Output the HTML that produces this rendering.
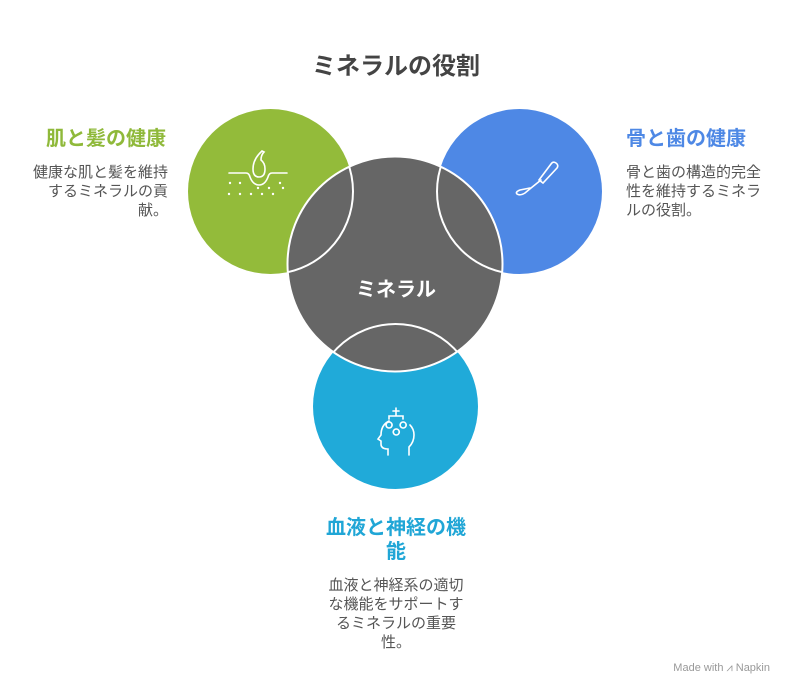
<!DOCTYPE html>
<html><head><meta charset="utf-8"><style>
body{margin:0;width:792px;height:696px;background:#fff;position:relative;overflow:hidden;font-family:"Liberation Sans","Noto Sans CJK JP",sans-serif}
.t{position:absolute;white-space:nowrap}
.h{font-weight:bold;font-size:20px;line-height:24px}
.d{font-size:15px;color:#555;line-height:19px}
</style></head><body>
<svg width="792" height="696" style="position:absolute;left:0;top:0">
<defs><clipPath id="g"><circle cx="395" cy="264" r="107.5"/></clipPath></defs>
<circle cx="270.5" cy="191.5" r="82.5" fill="#93bb3a"/>
<circle cx="519.5" cy="191.5" r="82.5" fill="#4e88e5"/>
<circle cx="395.5" cy="406.5" r="82.5" fill="#20aad9"/>
<circle cx="395" cy="264" r="107.5" fill="#666" stroke="#fff" stroke-width="2"/>
<g clip-path="url(#g)" fill="none" stroke="#fff" stroke-width="2">
<circle cx="270.5" cy="191.5" r="82.5"/><circle cx="519.5" cy="191.5" r="82.5"/><circle cx="395.5" cy="406.5" r="82.5"/></g>
<text x="396" y="296" text-anchor="middle" font-size="20" font-weight="bold" fill="#fff" font-family="Liberation Sans,Noto Sans CJK JP,sans-serif">ミネラル</text>
<g fill="none" stroke="#fff" stroke-width="1.6" stroke-linecap="round">
<path d="M229 173h17q3 0 4 4q3 8 9 8q6 0 9-8q1-4 4-4h15"/>
<path d="M262 151q-9 8-9 18q0 8 6 8q6 0 6-8q0-6-4-9q0-5 3-8z"/>
<path d="M530 188l-10 2q-5 2-3 4q3 2 8-1l6-5l10-8"/>
<path d="M539 180l4 3l14-15q2-3-1-5q-3-2-5 1z"/>
<path d="M396 408v8m-7 6a3 3 0 1 0 .1 0m14 0a3 3 0 1 0 .1 0m-7 7a3 3 0 1 0 .1 0M393 411h6M389 419v-3h14v3"/>
<path d="M388 455v-6q-7 0-7-5v-3l-3-2l3-4q0-10 8-14M409 455v-8q5-5 5-12q0-6-4-10"/>
</g>
<g fill="#fff"><circle cx="230" cy="183" r="1.2"/><circle cx="240" cy="183" r="1.2"/><circle cx="280" cy="183" r="1.2"/><circle cx="269" cy="188" r="1.2"/><circle cx="258" cy="188" r="1.2"/><circle cx="229" cy="194" r="1.2"/><circle cx="240" cy="194" r="1.2"/><circle cx="251" cy="194" r="1.2"/><circle cx="262" cy="194" r="1.2"/><circle cx="273" cy="194" r="1.2"/><circle cx="283" cy="188" r="1.2"/></g>
</svg>
<div class="t" style="left:0;width:792px;text-align:center;top:51px;font-size:24px;line-height:32px;font-weight:bold;color:#444">ミネラルの役割</div>
<div class="t h" style="right:626px;top:127px;color:#8fb93a">肌と髪の健康</div>
<div class="t d" style="right:624px;top:163px;text-align:right">健康な肌と髪を維持<br>するミネラルの貢<br>献。</div>
<div class="t h" style="left:626px;top:127px;color:#4e88e5">骨と歯の健康</div>
<div class="t d" style="left:626px;top:163px">骨と歯の構造的完全<br>性を維持するミネラ<br>ルの役割。</div>
<div class="t h" style="left:0;width:792px;text-align:center;top:516px;color:#20a6d6">血液と神経の機<br>能</div>
<div class="t d" style="left:0;width:792px;text-align:center;top:576px">血液と神経系の適切<br>な機能をサポートす<br>るミネラルの重要<br>性。</div>
<div class="t" style="right:22px;top:662px;font-size:11px;color:#999">Made with ⩘ Napkin</div>
</body></html>
